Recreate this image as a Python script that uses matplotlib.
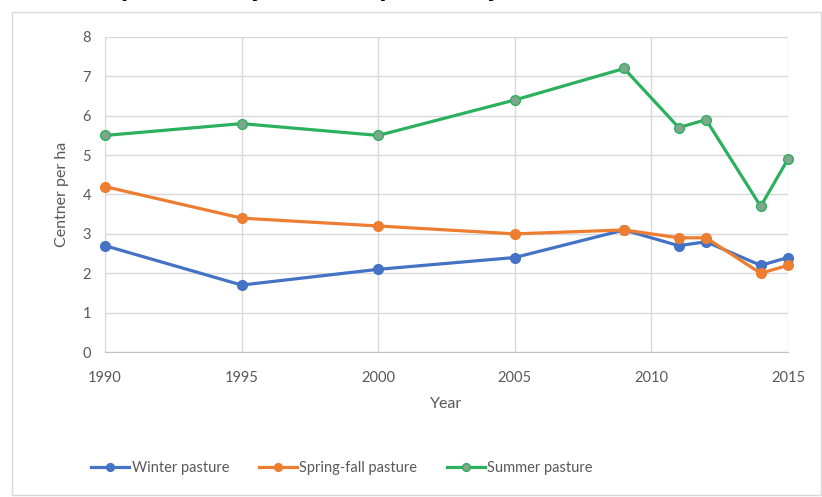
import matplotlib.pyplot as plt
from matplotlib.patches import Rectangle

plt.rcParams['font.family'] = ['Lato', 'DejaVu Sans']

# data
years = [1990, 1995, 2000, 2005, 2009, 2011, 2012, 2014, 2015]
winter = [2.7, 1.7, 2.1, 2.4, 3.1, 2.7, 2.8, 2.2, 2.4]
spring_fall = [4.2, 3.4, 3.2, 3.0, 3.1, 2.9, 2.9, 2.0, 2.2]
summer = [5.5, 5.8, 5.5, 6.4, 7.2, 5.7, 5.9, 3.7, 4.9]
x_ticks = [1990, 1995, 2000, 2005, 2010, 2015]
y_ticks = [0, 1, 2, 3, 4, 5, 6, 7, 8]

W, H = 822, 497
fig = plt.figure(figsize=(W / 100, H / 100), dpi=100)

# chart area frame
fig.patches.append(Rectangle((12 / W, 2 / H), (W - 13) / W, (H - 14) / H,
                             transform=fig.transFigure, fill=False,
                             edgecolor='#d9d9d9', linewidth=1))

# title is cut off at the top edge in the reference, only descenders show
fig.text(23 / W, 1 + 3 / H, 'Pasture productivity (centner per ha) by season',
         fontsize=15, fontweight='bold', family='DejaVu Sans',
         ha='left', va='baseline', color='black')

ax = fig.add_axes([105 / W, 145 / H, 683 / W, 315 / H])

series = [
    (winter, 'Winter pasture', '#4472C4', '#4472C4'),
    (spring_fall, 'Spring-fall pasture', '#ED7D31', '#ED7D31'),
    (summer, 'Summer pasture', '#2BB05E', '#7FA78B'),
]
for vals, label, col, face in series:
    ax.plot(years, vals, color=col, lw=2.3, marker='o', markersize=7,
            markerfacecolor=face, markeredgecolor=col, markeredgewidth=1,
            label=label, clip_on=False, zorder=3)

ax.set_xlim(1990, 2015)
ax.set_ylim(0, 8)
ax.set_xticks(x_ticks)
ax.set_yticks(y_ticks)
ax.grid(True, color='#d9d9d9', linewidth=1)
ax.set_axisbelow(True)
for s in ['top', 'right']:
    ax.spines[s].set_visible(False)
ax.spines['left'].set_color('#d9d9d9')
ax.spines['bottom'].set_color('#bfbfbf')
ax.tick_params(length=0, colors='#595959', labelsize=10.5)
ax.tick_params(axis='x', pad=14)
ax.tick_params(axis='y', pad=10)

ax.set_xlabel('Year', fontsize=11.5, color='#595959', labelpad=8)
ax.set_ylabel('Centner per ha', fontsize=11.5, color='#595959', labelpad=10)

fig.legend(loc='center', bbox_to_anchor=(342 / W, 29 / H), ncol=3,
           frameon=False, fontsize=10.5, labelcolor='#595959', markerscale=0.8,
           handlelength=2.6, handletextpad=0.2, columnspacing=2.0)

fig.savefig('out.png', dpi=100)
